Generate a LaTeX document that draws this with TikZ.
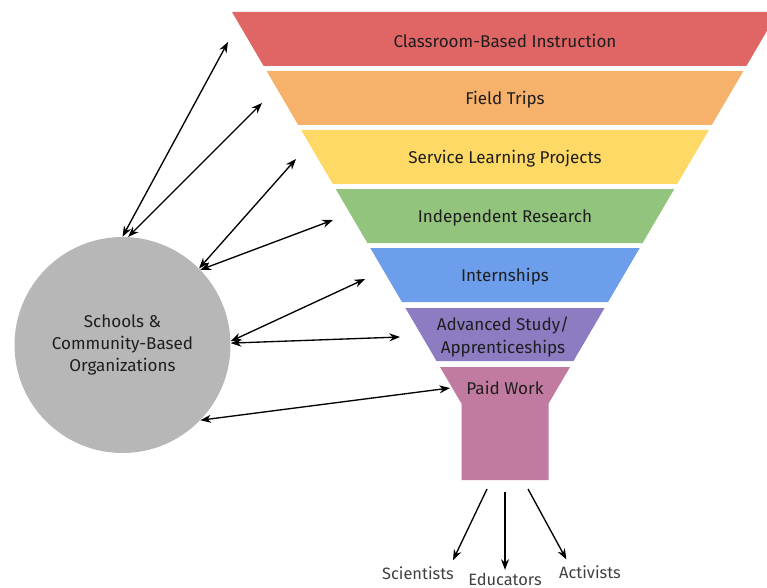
\documentclass[tikz,border=0pt]{standalone}
\usepackage{fontspec}
\setmainfont{Fira Sans}
\usetikzlibrary{arrows.meta}
\definecolor{bandred}{HTML}{E06666}
\definecolor{bandorange}{HTML}{F6B26B}
\definecolor{bandyellow}{HTML}{FFD966}
\definecolor{bandgreen}{HTML}{93C47D}
\definecolor{bandblue}{HTML}{6D9EEB}
\definecolor{bandpurple}{HTML}{8E7CC3}
\definecolor{bandpink}{HTML}{C27BA0}
\definecolor{orggray}{HTML}{B7B7B7}
\definecolor{txt}{HTML}{1E1E1E}
\begin{document}
\begin{tikzpicture}[x=0.75pt,y=-0.75pt,
  bandtext/.style={font=\fontsize{12.8}{16.8}\selectfont,text=txt,align=center},
  people/.style={font=\fontsize{12.3}{14}\selectfont,text=txt!85,inner sep=0pt},
  link/.style={{Stealth[length=8pt,width=6pt]}-{Stealth[length=8pt,width=6pt]},line width=1pt},
  feed/.style={-{Stealth[length=8pt,width=6pt]},line width=1pt}]
  \useasboundingbox (0,0) rectangle (767,588);
  \clip (0,0) rectangle (767,588);
  % funnel bands
  \foreach \yt/\yb/\col in {12/66/bandred,71/125/bandorange,130/184/bandyellow,
      189/243/bandgreen,248/302/bandblue,308/361/bandpurple}
    \fill[\col] ({232+0.586*(\yt-12)},\yt) -- ({778-0.586*(\yt-12)},\yt)
      -- ({778-0.586*(\yb-12)},\yb) -- ({232+0.586*(\yb-12)},\yb) -- cycle;
  \fill[bandpink] (440,367) -- (570,367) -- (548.5,403.6) -- (548.5,480)
    -- (461.5,480) -- (461.5,403.6) -- cycle;
  \node[bandtext] (class) at (505,41) {Classroom-Based Instruction};
  \node[bandtext] (field) at (505,100) {Field Trips};
  \node[bandtext] (service) at (505,159) {Service Learning Projects};
  \node[bandtext] (research) at (505,218) {Independent Research};
  \node[bandtext] (intern) at (505,277) {Internships};
  \node[bandtext] (advanced) at (503,337) {Advanced Study/\\Apprenticeships};
  \node[bandtext] (paid) at (505,388) {Paid Work};
  % schools
  \node[circle,fill=orggray,minimum size=162pt,inner sep=0pt,bandtext] (org)
    at (122.5,345) {Schools \&\\Community-Based\\Organizations};
  \coordinate (a1) at (228,42);
  \coordinate (a2) at (262,103);
  \coordinate (a3) at (296,159);
  \coordinate (a4) at (333,220);
  \coordinate (a5) at (365,279);
  \coordinate (a6) at (400,337);
  \coordinate (a7) at (450,388);
  \draw[link] (org.90) -- (a1);
  \draw[link] (org.87) -- (a2);
  \draw[link] (org.45) -- (a3);
  \draw[link] (org.44) -- (a4);
  \draw[link] (org.2) -- (a5);
  \draw[link] (org.1) -- (a6);
  \draw[link] (org.-44) -- (a7);
  % outcomes
  \node[people] (sci) at (418,573) {Scientists};
  \node[people] (edu) at (505,579) {Educators};
  \node[people] (act) at (590,572) {Activists};
  \coordinate (s1) at (487,489);
  \coordinate (s2) at (505,492);
  \coordinate (s3) at (528,489);
  \draw[feed,shorten >=5pt] (s1) -- ([xshift=-3pt]sci.north east);
  \draw[feed,shorten >=2pt] (s2) -- (edu.north);
  \draw[feed,shorten >=5pt] (s3) -- ([xshift=8pt]act.north west);
\end{tikzpicture}
\end{document}
